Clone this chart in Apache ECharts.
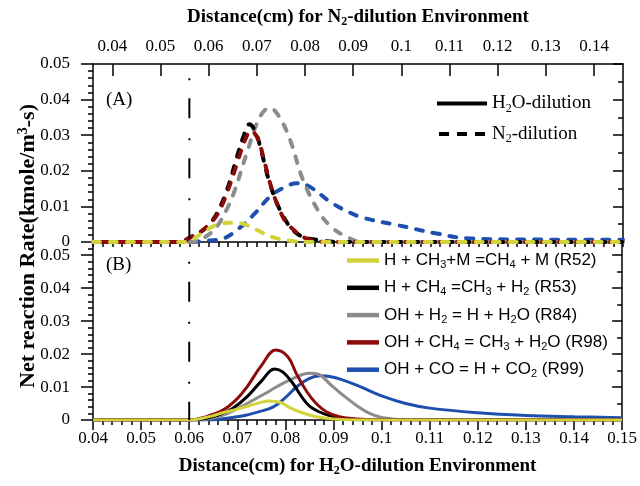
<!DOCTYPE html>
<html><head><meta charset="utf-8">
<script src="https://cdn.jsdelivr.net/npm/echarts@6/dist/echarts.min.js"></script>
<style>html,body{margin:0;padding:0;background:#fff}#c{width:640px;height:486px}</style>
</head><body><div id="c"></div>
<script>
// ---------- Panel (B): H2O-dilution, x = bottom axis distance (cm) ----------
const h2oR52X = [0.04, 0.06, 0.062, 0.065, 0.067, 0.07, 0.072, 0.0745, 0.0767, 0.079, 0.081, 0.0835, 0.0864, 0.09, 0.095, 0.15];
const h2oR52Y = [0, 0, 0.0003, 0.0013, 0.0022, 0.0033, 0.0041, 0.0052, 0.0058, 0.0053, 0.0037, 0.0022, 0.001, 0.0003, 0, 0];
const h2oR53X = [0.04, 0.06, 0.063, 0.066, 0.069, 0.072, 0.075, 0.0778, 0.0795, 0.0816, 0.0835, 0.085, 0.087, 0.089, 0.092, 0.095, 0.15];
const h2oR53Y = [0, 0, 0.0004, 0.0015, 0.0035, 0.007, 0.0118, 0.0155, 0.0145, 0.011, 0.0068, 0.0042, 0.0025, 0.0014, 0.0005, 0.0001, 0];
const h2oR84X = [0.04, 0.062, 0.065, 0.068, 0.072, 0.0755, 0.0781, 0.081, 0.085, 0.087, 0.0892, 0.092, 0.0947, 0.0975, 0.1, 0.105, 0.15];
const h2oR84Y = [0, 0, 0.0006, 0.002, 0.005, 0.0078, 0.01, 0.0122, 0.0142, 0.0138, 0.011, 0.0075, 0.0045, 0.002, 0.0008, 0.0001, 0];
const h2oR98X = [0.04, 0.06, 0.063, 0.067, 0.07, 0.072, 0.075, 0.078, 0.0805, 0.0823, 0.0845, 0.0864, 0.0885, 0.0912, 0.095, 0.1, 0.15];
const h2oR98Y = [0, 0, 0.0008, 0.003, 0.0065, 0.01, 0.0165, 0.0212, 0.0192, 0.014, 0.0085, 0.005, 0.0025, 0.001, 0.0003, 0, 0];
const h2oR99X = [0.04, 0.064, 0.067, 0.071, 0.0745, 0.0775, 0.08, 0.0823, 0.0848, 0.0872, 0.0895, 0.092, 0.0954, 0.1, 0.105, 0.11, 0.12, 0.13, 0.14, 0.15];
const h2oR99Y = [0, 0, 0.0004, 0.0012, 0.0025, 0.004, 0.0068, 0.01, 0.0125, 0.0134, 0.0131, 0.0121, 0.0102, 0.0073, 0.005, 0.0036, 0.0022, 0.0014, 0.001, 0.0007];

// ---------- Panel (A): N2-dilution, x = top axis distance (cm) ----------
const n2R52X = [0.036, 0.055, 0.057, 0.059, 0.0607, 0.0624, 0.0659, 0.068, 0.07, 0.0734, 0.0776, 0.08, 0.146];
const n2R52Y = [0, 0, 0.001, 0.0029, 0.0042, 0.0052, 0.0054, 0.0047, 0.0034, 0.0013, 0.0002, 0, 0];
const n2R53X = [0.036, 0.054, 0.0562, 0.0585, 0.06, 0.0617, 0.0638, 0.0659, 0.0672, 0.0685, 0.0697, 0.0707, 0.0727, 0.0752, 0.0783, 0.0824, 0.088, 0.146];
const n2R53Y = [0, 0, 0.0013, 0.003, 0.0048, 0.008, 0.0146, 0.024, 0.0295, 0.0331, 0.031, 0.0268, 0.0165, 0.008, 0.0024, 0.0006, 0, 0];
const n2R84X = [0.036, 0.056, 0.059, 0.0615, 0.0635, 0.0652, 0.0679, 0.07, 0.0715, 0.0727, 0.0745, 0.0769, 0.0796, 0.0831, 0.0855, 0.0879, 0.092, 0.146];
const n2R84Y = [0, 0, 0.0012, 0.004, 0.0085, 0.0137, 0.0249, 0.0333, 0.0368, 0.0376, 0.0355, 0.0287, 0.0174, 0.008, 0.0042, 0.002, 0, 0];
const n2R98X = [0.036, 0.054, 0.056, 0.0585, 0.0596, 0.0617, 0.0638, 0.066, 0.0675, 0.0688, 0.0702, 0.0715, 0.0734, 0.0755, 0.0769, 0.0803, 0.086, 0.146];
const n2R98Y = [0, 0, 0.0012, 0.003, 0.0043, 0.0075, 0.0138, 0.0225, 0.0285, 0.0312, 0.029, 0.023, 0.0137, 0.0068, 0.0043, 0.001, 0, 0];
const n2R99X = [0.036, 0.056, 0.06, 0.0631, 0.066, 0.0693, 0.0727, 0.0755, 0.0783, 0.081, 0.0852, 0.0885, 0.0921, 0.099, 0.1073, 0.1142, 0.126, 0.146];
const n2R99Y = [0, 0, 0.0004, 0.001, 0.0035, 0.0076, 0.0127, 0.0152, 0.0165, 0.0155, 0.0113, 0.0088, 0.0068, 0.0048, 0.0024, 0.001, 0.0007, 0.0006];

// reference cut line (dash-dot) positions
const cutH2O = [[0.06, 0.048], [0.06, 0]];
const cutN2 = [[0.056, 0.046], [0.056, 0]];

const reactionNames = ['R52', 'R53', 'R84', 'R98', 'R99'];
const reactionLabels = {
  R52: 'H + CH{s|3}+M =CH{s|4} + M (R52)',
  R53: 'H + CH{s|4} =CH{s|3} + H{s|2} (R53)',
  R84: 'OH + H{s|2} = H + H{s|2}O (R84)',
  R98: 'OH + CH{s|4} = CH{s|3} + H{s|2}O (R98)',
  R99: 'OH + CO = H + CO{s|2} (R99)'
};
const envLabels = { H2O: 'H{s|2}O-dilution', N2: 'N{s|2}-dilution' };
const colors = { R52: '#d2d23a', R53: '#000000', R84: '#8c8c8c', R98: '#8b0a0a', R99: '#1f4fae' };

const zip = (xs, ys) => xs.map((x, i) => [x, ys[i]]);
const serif = 'Liberation Serif';
const sans = 'Liberation Sans';
const blk = { color: '#000', width: 1.5 };

function solid(name, xs, ys) {
  return { name, type: 'line', xAxisIndex: 2, yAxisIndex: 2, data: zip(xs, ys), symbol: 'none',
    smooth: 0.4, lineStyle: { color: colors[name], width: 3 }, itemStyle: { color: colors[name] } };
}
function dashed(name, xs, ys, off) {
  return { name: name + ' N2', type: 'line', xAxisIndex: 0, yAxisIndex: 0, data: zip(xs, ys), symbol: 'none',
    smooth: 0.4,
    lineStyle: { color: colors[name], width: 4, type: [7, 10], dashOffset: off, cap: 'round' }, itemStyle: { color: colors[name] } };
}

const chart = echarts.init(document.getElementById('c'), null, { renderer: 'canvas' });
const subRich = (fs, pad, bold, fam) => ({ s: { fontSize: fs, padding: [pad, 0, 0, 0], fontWeight: bold ? 'bold' : 'normal', fontFamily: fam, color: '#000' } });
const dashIcon = 'path://M0,0h10v4h-10z M18,0h10v4h-10z M36,0h10v4h-10z';

chart.setOption({
  animation: false,
  backgroundColor: '#fff',
  grid: [
    { left: 93, right: 17, top: 64, height: 178 },
    { left: 93, right: 17, top: 242, height: 178 },
    { left: 93, right: 17, top: 64, height: 178 },
    { left: 93, right: 17, top: 242, height: 178 }
  ],
  xAxis: [
    { type: 'value', gridIndex: 0, position: 'top', min: 0.036, max: 0.146, splitNumber: 11,
      axisLine: { show: true, onZero: false, lineStyle: blk },
      axisTick: { show: true, inside: true, length: 12, lineStyle: blk },
      axisLabel: { margin: 9, color: '#000', fontFamily: serif, fontSize: 17, showMinLabel: false, showMaxLabel: false },
      splitLine: { show: false },
      name: 'Distance(cm) for N{s|2}-dilution Environment', nameLocation: 'middle', nameGap: 36,
      nameTextStyle: { fontFamily: serif, fontSize: 19, fontWeight: 'bold', color: '#000', rich: subRich(12, 9, true, serif) } },
    { type: 'value', gridIndex: 0, position: 'bottom', min: 0.036, max: 0.146,
      axisLine: { show: true, onZero: false, lineStyle: blk }, axisTick: { show: false }, axisLabel: { show: false }, splitLine: { show: false } },
    { type: 'value', gridIndex: 1, position: 'bottom', min: 0.04, max: 0.15, interval: 0.01,
      axisLine: { show: true, onZero: false, lineStyle: blk },
      axisTick: { show: true, inside: false, length: 10, lineStyle: blk },
      minorTick: { show: true, splitNumber: 5, length: 5, lineStyle: blk },
      axisLabel: { margin: 10, color: '#000', fontFamily: serif, fontSize: 17 },
      splitLine: { show: false }, minorSplitLine: { show: false },
      name: 'Distance(cm) for H{s|2}O-dilution Environment', nameLocation: 'middle', nameGap: 36,
      nameTextStyle: { fontFamily: serif, fontSize: 19, fontWeight: 'bold', color: '#000', rich: subRich(12, 9, true, serif) } },
    { type: 'value', gridIndex: 2, position: 'top', min: 0.036, max: 0.146, interval: 0.002,
      axisLine: { show: false }, axisTick: { show: true, inside: true, length: 5, lineStyle: blk }, axisLabel: { show: false }, splitLine: { show: false } },
    { type: 'value', gridIndex: 3, show: false, min: 0, max: 1 }
  ],
  yAxis: [
    { type: 'value', gridIndex: 0, position: 'left', min: 0, max: 0.05, interval: 0.01,
      axisLine: { show: true, onZero: false, lineStyle: blk },
      axisTick: { show: true, inside: false, length: 12, lineStyle: blk },
      minorTick: { show: true, splitNumber: 5, length: 5, lineStyle: blk },
      axisLabel: { margin: 23, color: '#000', fontFamily: serif, fontSize: 17 },
      splitLine: { show: false }, minorSplitLine: { show: false } },
    { type: 'value', gridIndex: 0, position: 'right', min: 0, max: 0.05, interval: 0.01,
      axisLine: { show: true, onZero: false, lineStyle: blk },
      axisTick: { show: true, inside: true, length: 10, lineStyle: blk },
      minorTick: { show: true, splitNumber: 2, length: 5, lineStyle: blk },
      axisLabel: { show: false }, splitLine: { show: false }, minorSplitLine: { show: false } },
    { type: 'value', gridIndex: 1, position: 'left', min: 0, max: 0.054, interval: 0.01,
      axisLine: { show: true, onZero: false, lineStyle: blk },
      axisTick: { show: true, inside: false, length: 12, lineStyle: blk },
      axisLabel: { margin: 23, color: '#000', fontFamily: serif, fontSize: 17, showMaxLabel: false },
      splitLine: { show: false } },
    { type: 'value', gridIndex: 1, position: 'right', min: 0, max: 0.054, interval: 0.01,
      axisLine: { show: true, onZero: false, lineStyle: blk },
      axisTick: { show: true, inside: true, length: 10, lineStyle: blk },
      minorTick: { show: true, splitNumber: 2, length: 5, lineStyle: blk },
      axisLabel: { show: false }, splitLine: { show: false }, minorSplitLine: { show: false } },
    { type: 'value', gridIndex: 2, show: false, min: 0, max: 1 },
    { type: 'value', gridIndex: 3, position: 'left', min: 0, max: 0.054, interval: 0.002,
      axisLine: { show: false }, axisTick: { show: true, inside: false, length: 5, lineStyle: blk },
      axisLabel: { show: false }, splitLine: { show: false } }
  ],
  legend: [
    { data: [{ name: 'H2O', icon: 'rect' }, { name: 'N2', icon: dashIcon }], orient: 'vertical', left: 437, top: 94,
      padding: 0, itemWidth: 50, itemHeight: 4, itemGap: 10,
      selectedMode: false, formatter: n => envLabels[n],
      textStyle: { fontFamily: serif, fontSize: 19, color: '#000', rich: subRich(12, 10, false, serif) } },
    { data: reactionNames.map(n => ({ name: n, icon: 'rect' })), orient: 'vertical', left: 347, top: 252,
      padding: 0, itemWidth: 32, itemHeight: 4.5, itemGap: 8.8,
      selectedMode: false, formatter: n => reactionLabels[n],
      textStyle: { fontFamily: sans, fontSize: 17, color: '#000', rich: subRich(11, 9, false, sans) } }
  ],
  graphic: [
    { type: 'text', x: 28, y: 246, rotation: Math.PI / 2,
      style: { text: 'Net reaction Rate(kmole/m{p|3}-s)', fontFamily: serif, fontSize: 22, fontWeight: 'bold', fill: '#000',
        align: 'center', verticalAlign: 'middle',
        rich: { p: { fontSize: 14, fontWeight: 'bold', fontFamily: serif, padding: [0, 0, 9, 0], color: '#000' } } } },
    { type: 'text', x: 106, y: 100, style: { text: '(A)', fontFamily: serif, fontSize: 19, fill: '#000', verticalAlign: 'middle' } },
    { type: 'text', x: 106, y: 265, style: { text: '(B)', fontFamily: serif, fontSize: 19, fill: '#000', verticalAlign: 'middle' } }
  ],
  series: [
    // legend-only environment entries
    { name: 'H2O', type: 'line', xAxisIndex: 0, yAxisIndex: 0, data: [], symbol: 'none', lineStyle: { color: '#000', width: 3.5 }, itemStyle: { color: '#000' } },
    { name: 'N2', type: 'line', xAxisIndex: 0, yAxisIndex: 0, data: [], symbol: 'none', lineStyle: { color: '#000', width: 4.5, type: [7, 10], cap: 'round' }, itemStyle: { color: '#000' } },
    // panel A (dashed)
    dashed('R99', n2R99X, n2R99Y, 3),
    dashed('R84', n2R84X, n2R84Y, 6),
    dashed('R53', n2R53X, n2R53Y, 8.5),
    dashed('R98', n2R98X, n2R98Y, 8.5),
    dashed('R52', n2R52X, n2R52Y, 0),
    { name: 'cutA', type: 'line', xAxisIndex: 0, yAxisIndex: 0, data: cutN2, symbol: 'none',
      lineStyle: { color: '#000', width: 2, type: [2, 18, 20, 20] } },
    // panel B (solid)
    solid('R99', h2oR99X, h2oR99Y),
    solid('R84', h2oR84X, h2oR84Y),
    solid('R53', h2oR53X, h2oR53Y),
    solid('R98', h2oR98X, h2oR98Y),
    solid('R52', h2oR52X, h2oR52Y),
    { name: 'cutB', type: 'line', xAxisIndex: 2, yAxisIndex: 2, data: cutH2O, symbol: 'none',
      lineStyle: { color: '#000', width: 2, type: [2, 18, 20, 20] } }
  ]
});
</script>
</body></html>
